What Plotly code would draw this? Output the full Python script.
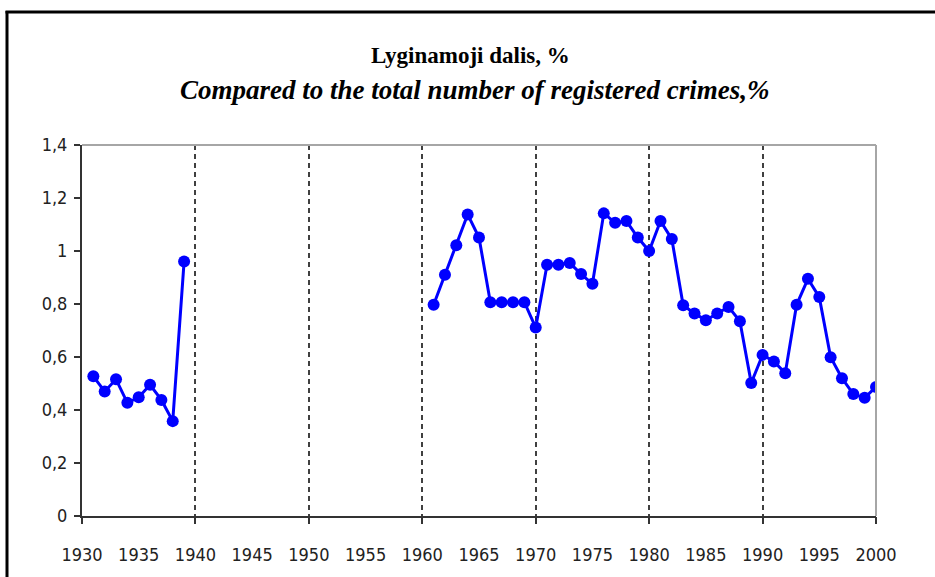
import plotly.graph_objects as go

# ---- data ----
years_prewar = [1931, 1932, 1933, 1934, 1935, 1936, 1937, 1938, 1939]
share_prewar = [0.527, 0.47, 0.516, 0.427, 0.448, 0.495, 0.438, 0.358, 0.96]

years_postwar = list(range(1961, 2001))
share_postwar = [0.797, 0.91, 1.022, 1.138, 1.051, 0.807, 0.807, 0.807, 0.807, 0.711,
                 0.948, 0.948, 0.955, 0.913, 0.876, 1.142, 1.107, 1.113, 1.051, 1.0,
                 1.113, 1.045, 0.795, 0.764, 0.739, 0.764, 0.789, 0.735, 0.502, 0.608,
                 0.583, 0.539, 0.797, 0.895, 0.826, 0.599, 0.520, 0.460, 0.446, 0.487]

x_label_vals = list(range(1930, 2001, 5))
x_tick_vals = list(range(1930, 2001, 10))
y_tick_vals = [0, 0.2, 0.4, 0.6, 0.8, 1.0, 1.2, 1.4]
y_tick_text = ["0", "0,2", "0,4", "0,6", "0,8", "1", "1,2", "1,4"]

title_main = "Lyginamoji dalis, %"
title_sub = "Compared to the total number of registered crimes,%"

# ---- layout geometry ----
W, H = 935, 577
ML, MR, MT, MB = 82, 59, 145, 58
PW, PH = W - ML - MR, H - MT - MB

def px_x(p):
    return (p - ML) / PW

def px_y(p):
    return (H - MB - p) / PH

BLUE = "#0000FF"
TICK_FONT = dict(family="DejaVu Sans Condensed, Liberation Sans Narrow, sans-serif",
                 size=18, color="#222222")

fig = go.Figure()
for xs, ys in [(years_prewar, share_prewar), (years_postwar, share_postwar)]:
    fig.add_trace(go.Scatter(
        x=xs, y=ys, mode="lines+markers",
        line=dict(color=BLUE, width=3),
        marker=dict(color=BLUE, size=12),
        showlegend=False, hoverinfo="x+y",
    ))

fig.update_layout(
    width=W, height=H,
    margin=dict(l=ML, r=MR, t=MT, b=MB),
    paper_bgcolor="white", plot_bgcolor="white",
    showlegend=False,
    xaxis=dict(
        range=[1930, 2000], tickmode="array", tickvals=x_label_vals,
        ticktext=[str(v) for v in x_label_vals],
        ticks="", showgrid=False, zeroline=False,
        showline=True, linecolor="#333333", linewidth=2,
        tickfont=TICK_FONT, ticklabelstandoff=21,
    ),
    xaxis2=dict(
        range=[1930, 2000], overlaying="x", anchor="y", side="bottom",
        tickmode="array", tickvals=x_tick_vals, showticklabels=False,
        ticks="outside", ticklen=7, tickwidth=1.5, tickcolor="#333333",
        showgrid=True, gridcolor="#404040", gridwidth=1.5, griddash="5px,4px",
        zeroline=False, showline=False,
    ),
    yaxis=dict(
        range=[0, 1.4], tickmode="array", tickvals=y_tick_vals, ticktext=y_tick_text,
        ticks="outside", ticklen=6, tickwidth=1.5, tickcolor="#333333",
        showgrid=False, zeroline=False,
        showline=True, linecolor="#333333", linewidth=2,
        tickfont=TICK_FONT, ticklabelstandoff=3,
    ),
    shapes=[
        # plot-area border (top and right, gray)
        dict(type="line", xref="paper", yref="paper", x0=0, x1=1, y0=1, y1=1,
             line=dict(color="#a6a6a6", width=2)),
        dict(type="line", xref="paper", yref="paper", x0=1, x1=1, y0=0, y1=1,
             line=dict(color="#a6a6a6", width=2)),
        # outer chart frame (left and top, black)
        dict(type="line", xref="paper", yref="paper", x0=px_x(7), x1=px_x(7),
             y0=px_y(H + 10), y1=px_y(10), line=dict(color="black", width=3)),
        dict(type="line", xref="paper", yref="paper", x0=px_x(5.5), x1=px_x(W + 10),
             y0=px_y(11), y1=px_y(11), line=dict(color="black", width=3)),
    ],
    annotations=[
        dict(text="<b>" + title_main + "</b>", xref="paper", yref="paper",
             x=px_x(470), y=px_y(55), showarrow=False, xanchor="center", yanchor="middle",
             font=dict(family="Liberation Serif, Times New Roman, serif", size=23, color="black")),
        dict(text="<b><i>" + title_sub + "</i></b>", xref="paper", yref="paper",
             x=px_x(474), y=px_y(90), showarrow=False, xanchor="center", yanchor="middle",
             font=dict(family="Liberation Serif, Times New Roman, serif", size=27, color="black")),
    ],
)

# invisible trace to anchor the overlay axis
fig.add_trace(go.Scatter(x=[1930, 2000], y=[None, None], xaxis="x2", yaxis="y",
                         mode="lines", showlegend=False, hoverinfo="skip"))

fig.write_html("out.html", config={"displayModeBar": False},
               post_script="document.body.style.margin='0';")
